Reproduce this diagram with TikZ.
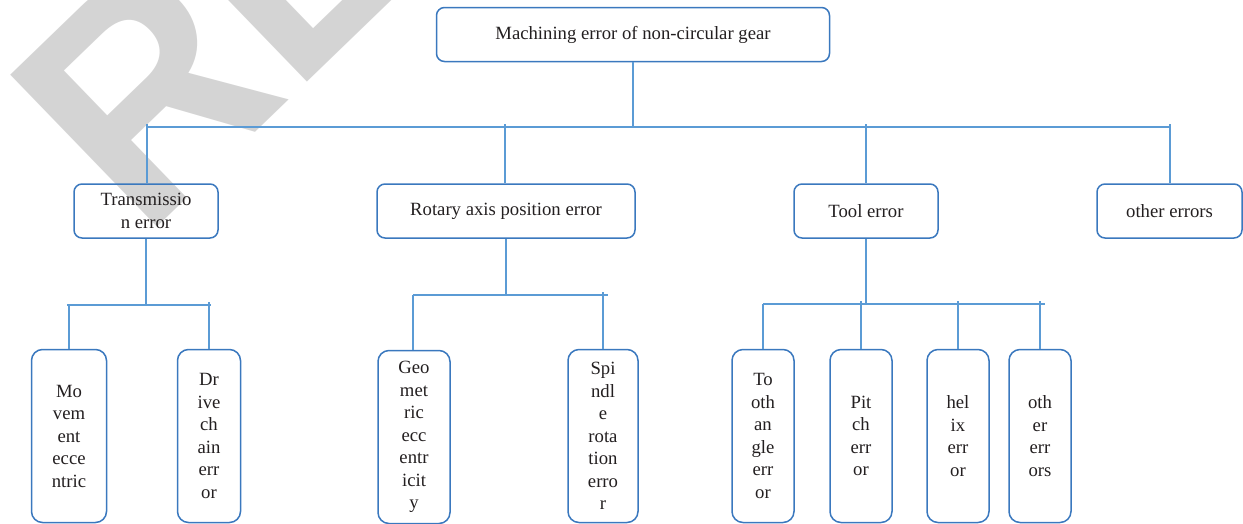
\documentclass[tikz,border=0pt]{standalone}
\usepackage{fontspec}
\setmainfont{Liberation Serif}
\newfontfamily\stampfont{Liberation Sans}
\usetikzlibrary{calc}

\definecolor{linkblue}{HTML}{5B9BD5}
\definecolor{boxblue}{HTML}{3A78BE}
\definecolor{ink}{HTML}{231F20}
\definecolor{stampgray}{HTML}{D4D4D4}

\tikzset{
  box/.style={draw=boxblue, line width=1.5pt, rounded corners=8pt, inner sep=0pt,
    align=center, text=ink, font=\fontsize{18.7}{22.5}\selectfont},
  rowbox/.style={box, minimum height=54pt},
  leafbox/.style={box, rounded corners=11pt, minimum height=173pt},
  link/.style={draw=linkblue, line width=1.5pt},
  stamp/.style={inner sep=0pt, anchor=base west, rotate=44, text=stampgray,
    font=\stampfont\bfseries\fontsize{307}{307}\selectfont},
}

\begin{document}
\begin{tikzpicture}[x=1pt, y=-1pt]
\useasboundingbox (0,0) rectangle (1243,523);

% background stamp
\begin{scope}
  \clip (0,0) rectangle (1243,523);
  \node[stamp] (mark) at (143,240.6) {\scalebox{0.94}[1]{RE}};
\end{scope}

% root
\node[rowbox, minimum width=393pt] (root) at (633,34.5) {Machining error of non-circular gear};

% second level
\node[rowbox, minimum width=144pt] (trans)  at (146,211)  {Transmissio\\n error};
\node[rowbox, minimum width=258pt] (rotary) at (506,211)  {Rotary axis position error};
\node[rowbox, minimum width=144pt] (tool)   at (866,211)  {Tool error};
\node[rowbox, minimum width=145pt] (other)  at (1169.5,211) {other errors};

% third level
\node[leafbox, minimum width=75pt] (mov)    at (69,436)   {Mo\\vem\\ent\\ecce\\ntric};
\node[leafbox, minimum width=63pt] (drive)  at (209,436)  {Dr\\ive\\ch\\ain\\err\\or};
\node[leafbox, minimum width=72pt] (geo)    at (414,437)  {Geo\\met\\ric\\ecc\\entr\\icit\\y};
\node[leafbox, minimum width=70pt] (spin)   at (603,436)  {Spi\\ndl\\e\\rota\\tion\\erro\\r};
\node[leafbox, minimum width=62pt] (tooth)  at (763,436)  {To\\oth\\an\\gle\\err\\or};
\node[leafbox, minimum width=62pt] (pitch)  at (861,436)  {Pit\\ch\\err\\or};
\node[leafbox, minimum width=62pt] (helix)  at (958,436)  {hel\\ix\\err\\or};
\node[leafbox, minimum width=62pt] (others) at (1040,436) {oth\\er\\err\\ors};

% bus coordinates
\coordinate (barA) at (147,127); \coordinate (barB) at (1170,127);
\coordinate (trL) at (67,305);   \coordinate (trR) at (211,305);
\coordinate (roL) at (413,295);  \coordinate (roR) at (608,295);
\coordinate (toL) at (763,304);  \coordinate (toR) at (1045,304);

% root to second level
\draw[link] (root.south) -- (root.south |- barA);
\draw[link] (barA) -- (barB);
\draw[link] ($(barA)+(0,-3)$) -- (barA |- trans.north);
\draw[link] ($(rotary.north |- barA)+(-1,-3)$) -- ($(rotary.north)+(-1,0)$);
\draw[link] ($(tool.north |- barA)+(0,-3)$) -- (tool.north);
\draw[link] ($(barB)+(0,-3)$) -- (barB |- other.north);

% transmission branch
\draw[link] (trans.south) -- (trans.south |- trL);
\draw[link] (trL) -- (trR);
\draw[link] (mov.north |- trL) -- (mov.north);
\draw[link] ($(drive.north |- trL)+(0,-3)$) -- (drive.north);

% rotary axis branch
\draw[link] (rotary.south) -- (rotary.south |- roL);
\draw[link] (roL) -- (roR);
\draw[link] ($(geo.north |- roL)+(-1,0)$) -- ($(geo.north)+(-1,0)$);
\draw[link] ($(spin.north |- roL)+(0,-3)$) -- (spin.north);

% tool branch
\draw[link] (tool.south) -- (tool.south |- toL);
\draw[link] (toL) -- (toR);
\draw[link] (tooth.north |- toL) -- (tooth.north);
\draw[link] ($(pitch.north |- toL)+(0,-3)$) -- (pitch.north);
\draw[link] ($(helix.north |- toL)+(0,-3)$) -- (helix.north);
\draw[link] ($(others.north |- toL)+(0,-3)$) -- (others.north);
\end{tikzpicture}
\end{document}
